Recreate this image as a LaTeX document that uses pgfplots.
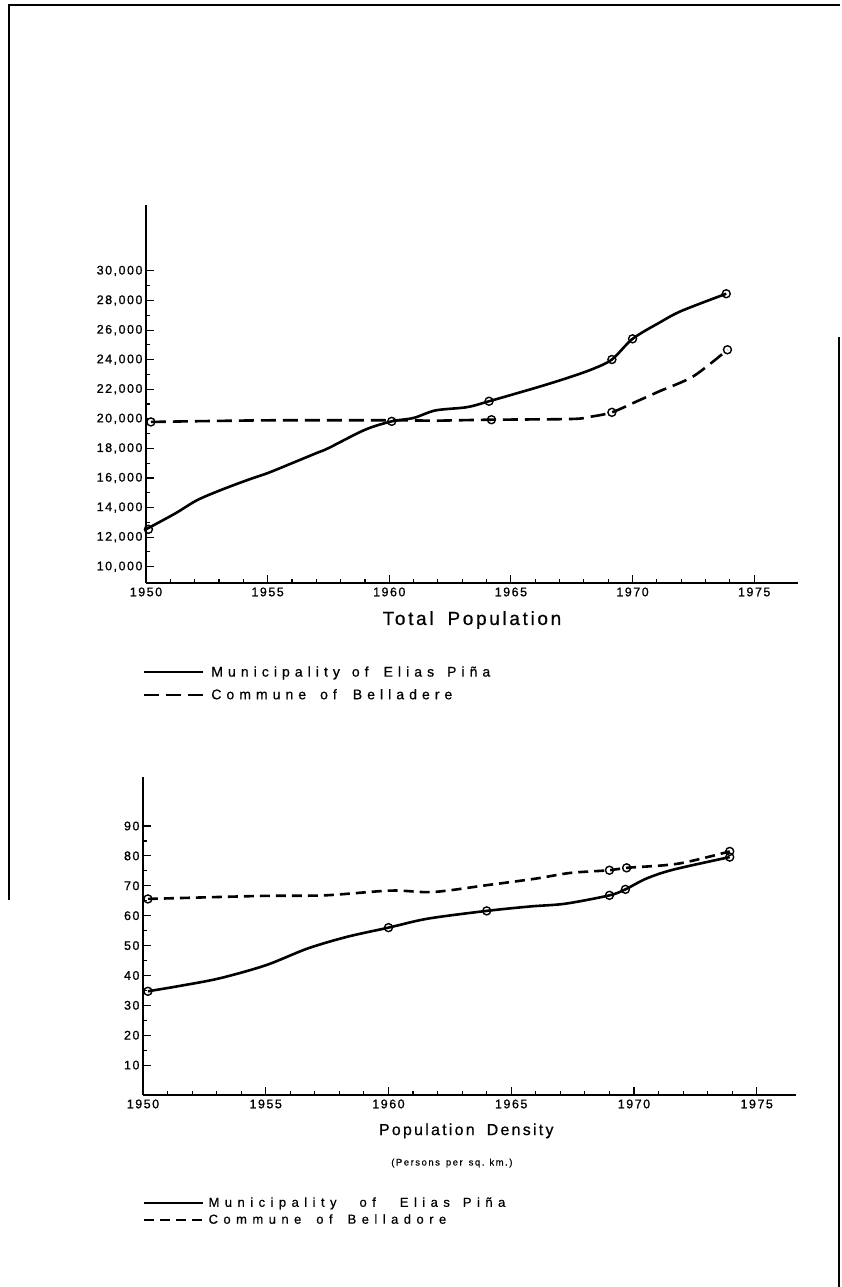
\documentclass[border=0pt]{standalone}
\usepackage{fontspec}
\setmainfont{Liberation Sans}
\newfontfamily\tickf[LetterSpace=12,FakeBold=1]{Liberation Sans}
\newfontfamily\legfa[LetterSpace=36,FakeBold=0.6]{Liberation Sans}
\newfontfamily\legfb[LetterSpace=42,FakeBold=0.6]{Liberation Sans}
\newfontfamily\titf[LetterSpace=14,FakeBold=0.6]{Liberation Sans}
\newfontfamily\persf[LetterSpace=16,FakeBold=0.4]{Liberation Sans}
\usepackage{pgfplots}
\pgfplotsset{compat=1.18}

\pgfplotstableread{
x y
1950.0 12530
1951.2 13600
1952.1 14500
1953.1 15200
1954.2 15880
1955.0 16330
1956.0 17000
1957.0 17680
1957.5 18020
1959.0 19260
1960.1 19830
1961.0 20060
1961.9 20570
1963.2 20790
1964.1 21190
1966.0 22090
1967.2 22700
1968.3 23330
1969.15 24010
1970.0 25410
1971.1 26500
1972.0 27290
1973.85 28460
}\popsolid

\pgfplotstableread{
x y
1950.2 19790
1955.0 19900
1960.1 19900
1962.0 19880
1964.1 19940
1967.5 19990
1968.3 20150
1969.15 20440
1970.2 21200
1971.1 21860
1972.5 22880
1973.9 24670
}\popdash

\pgfplotstableread{
x y
1950.2 34.7
1951.5 36.5
1953.1 39.0
1955.0 43.4
1956.7 49.0
1958.3 52.9
1960.0 56.0
1961.6 59.0
1964.0 61.6
1965.8 63.1
1967.2 64.0
1969.0 66.8
1969.65 68.8
1970.5 72.4
1971.6 75.4
1973.9 79.6
}\densolid

\pgfplotstableread{
x y
1950.2 65.6
1954.8 66.6
1957.4 66.8
1960.1 68.4
1961.8 67.9
1964.0 70.2
1966.0 72.4
1967.4 74.3
1969.0 75.2
1969.7 76.0
1971.8 77.4
1973.9 81.5
}\dendash

\pgfplotsset{
  myaxis/.style={
    scale only axis,
    axis lines=left,
    axis line style={line width=1.7pt,-},
    tick align=inside,
    major tick length=8pt,
    minor tick length=4pt,
    every tick/.style={black,line width=1.1pt},
    clip=false,
    scaled y ticks=false,
    scaled x ticks=false,
    xtick={1950,1955,...,1975},
    minor x tick num=4,
    minor y tick num=1,
    /pgf/number format/assume math mode=true,
    x tick label style={font=\tickf\fontsize{12.5}{14}\selectfont,/pgf/number format/1000 sep={},yshift=-1pt},
    y tick label style={font=\tickf\fontsize{12.5}{14}\selectfont,/pgf/number format/1000 sep={,}},
    legend cell align=left,
    legend image code/.code={\draw[#1,line width=2.4pt] (0pt,0pt) -- (59pt,0pt);},
  },
  solidl/.style={black,line width=2.6pt,smooth,tension=0.5},
  dashl/.style={black,line width=2.6pt,smooth,tension=0.5,dash pattern=on 13pt off 8pt},
  mk/.style={only marks,mark=o,mark size=4pt,mark options={fill=white,line width=1.4pt,solid},forget plot},
}

\begin{document}
\begin{tikzpicture}[x=1pt,y=1pt]
\useasboundingbox (0,0) rectangle (842,1287);
% page frame of the scanned sheet
\draw[line width=2.2pt] (8,1282) -- (840,1282);
\draw[line width=1.8pt] (9,1283) -- (9,387);
\draw[line width=1.4pt] (839,950) -- (839,0);

% ---------- Total population ----------
\begin{axis}[myaxis,
  at={(146pt,704pt)}, anchor=south west,
  width=652pt, height=378pt,
  xmin=1950, xmax=1976.8, ymin=8900, ymax=34460,
  ytick={10000,12000,...,30000},
  xlabel={\titf\fontsize{19}{22}\selectfont Total\hspace{14pt}Population},
  xlabel style={at={(axis description cs:0.5,-0.098)},anchor=center},
  legend style={draw=none,fill=none,at={(axis description cs:-0.005,-0.215)},anchor=north west,
    font=\legfa\fontsize{14}{17}\selectfont,row sep=7pt,inner sep=0pt,
    nodes={inner xsep=7pt}},
]
\addplot[solidl] table {\popsolid};
\addlegendentry{Municipality\hspace{12pt}of\hspace{15pt}Elias\hspace{13pt}Piña}
\addplot[dashl,dash pattern=on 15pt off 7pt] table {\popdash};
\addlegendentry{Commune\hspace{14pt}of\hspace{16pt}Belladere}
\addplot[mk] coordinates {(1950.1,12530) (1960.1,19830) (1964.1,21190) (1969.15,24010) (1970.0,25410) (1973.85,28460)};
\addplot[mk] coordinates {(1950.2,19790) (1964.2,19940) (1969.15,20440) (1973.9,24670)};
\end{axis}

% ---------- Population density ----------
\begin{axis}[myaxis,
  at={(143pt,192pt)}, anchor=south west,
  width=653pt, height=318pt,
  xmin=1950, xmax=1976.6, ymin=0, ymax=106.4,
  ytick={10,20,...,90},
  xlabel={\titf\fontsize{16}{19}\selectfont Population\hspace{12pt}Density},
  xlabel style={at={(axis description cs:0.495,-0.113)},anchor=center},
  legend style={draw=none,fill=none,at={(axis description cs:0,-0.315)},anchor=north west,
    font=\legfb\fontsize{13}{15}\selectfont,row sep=2pt,inner sep=0pt,
    nodes={inner xsep=4pt}},
]
\addplot[solidl] table {\densolid};
\addlegendentry{Municipality\hspace{23pt}of\hspace{24pt}Elias\hspace{13pt}Piña}
\addplot[dashl,dash pattern=on 10pt off 6pt] table {\dendash};
\addlegendentry{Commune\hspace{15pt}of\hspace{15pt}Belladore}
\addplot[mk] coordinates {(1950.2,34.7) (1960.0,56.0) (1964.0,61.6) (1969.0,66.8) (1969.65,68.8) (1973.9,79.6)};
\addplot[mk] coordinates {(1950.2,65.6) (1969.0,75.2) (1969.7,76.0) (1973.9,81.5)};
\node[font=\persf\fontsize{9.5}{12}\selectfont] at (axis description cs:0.473,-0.214) {(Persons\hspace{6pt}per\hspace{6pt}sq.\hspace{5pt}km.)};
\end{axis}
\end{tikzpicture}
\end{document}
